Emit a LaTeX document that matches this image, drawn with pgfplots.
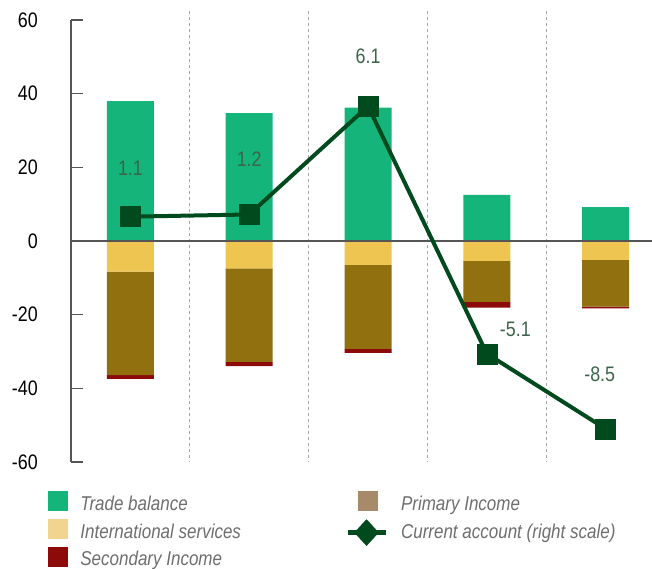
\documentclass[border=0pt]{standalone}
\usepackage{fontspec}
\setmainfont{Liberation Sans}[FakeStretch=0.85]
\usepackage{pgfplots}
\usepackage{pgfplotstable}
\pgfplotsset{compat=1.18}
\definecolor{trade}{RGB}{20,180,122}
\definecolor{intl}{RGB}{237,197,80}
\definecolor{prim}{RGB}{145,112,15}
\definecolor{sec}{RGB}{140,10,10}
\definecolor{ca}{RGB}{0,74,30}
\definecolor{intlL}{RGB}{240,212,143}
\definecolor{primL}{RGB}{166,138,106}
\definecolor{lbl}{RGB}{60,100,75}
\definecolor{axc}{RGB}{85,85,85}
\definecolor{tick}{RGB}{50,50,50}
\definecolor{legtxt}{RGB}{110,110,110}

\pgfplotstableread{
x trade intl prim sec ca
0 38.0 -8.3 -28.1 -1.0 1.1
1 34.7 -7.4 -25.4 -1.2 1.2
2 36.2 -6.5 -22.8 -1.1 6.1
3 12.5 -5.4 -11.1 -1.6 -5.1
4 9.2 -5.1 -12.7 -0.5 -8.5
}\datatable

\pgfplotsset{base/.style={width=581pt,height=442pt,scale only axis,
  xmin=-0.5,xmax=4.39,clip=false,at={(0,0)},anchor=south west}}

\begin{document}
\begin{tikzpicture}[font=\fontsize{21}{25}\selectfont]
\useasboundingbox (-71pt,-107pt) rectangle (581pt,462pt);
\begin{axis}[base, ymin=-60, ymax=60, ybar stacked, bar width=47pt,
  axis x line=none, axis y line*=left,
  axis line style={axc, line width=1.2pt},
  ytick={-60,-40,-20,0,20,40,60},
  yticklabels={-60,-40,-20,0,20,40,60},
  tick align=inside, major tick length=12pt,
  tick style={axc, line width=1.2pt},
  yticklabel style={tick, inner sep=0pt, xshift=-33pt},
  ]
\addplot[fill=intl, draw=none] table[x=x,y=intl]{\datatable};
\addplot[fill=prim, draw=none] table[x=x,y=prim]{\datatable};
\addplot[fill=sec, draw=none] table[x=x,y=sec]{\datatable};
\draw[black!35, line width=1pt, dash pattern=on 3pt off 3pt] (axis cs:0.5,62.5) -- (axis cs:0.5,-60);
\draw[black!35, line width=1pt, dash pattern=on 3pt off 3pt] (axis cs:1.5,62.5) -- (axis cs:1.5,-60);
\draw[black!35, line width=1pt, dash pattern=on 3pt off 3pt] (axis cs:2.5,62.5) -- (axis cs:2.5,-60);
\draw[black!35, line width=1pt, dash pattern=on 3pt off 3pt] (axis cs:3.5,62.5) -- (axis cs:3.5,-60);
\end{axis}
\begin{axis}[base, ymin=-60, ymax=60, axis lines=none, ybar, bar width=47pt, bar shift=0pt]
\addplot[fill=trade, draw=none] table[x=x,y=trade]{\datatable};
\draw[axc, line width=1.2pt] (axis cs:-0.5,0) -- (axis cs:4.39,0);
\end{axis}
\begin{axis}[base, ymin=-10, ymax=10, axis lines=none,
  legend columns=2,
  legend cell align=left,
  legend style={draw=none, fill=none, at={(-0.0396,-0.066)}, anchor=north west,
    inner sep=0pt, outer sep=0pt, row sep=0pt,
    nodes={inner sep=0pt, text=legtxt, font=\itshape\fontsize{20}{24}\selectfont, text height=14pt, text depth=5pt},
    /tikz/every odd column/.append style={column sep=13pt},
    /tikz/every even column/.append style={column sep=104pt}},
  ]
\addplot[ca, line width=4pt, mark=square*, mark size=10pt, mark options={line width=0.4pt}, forget plot] table[x=x,y=ca]{\datatable};
\node[lbl] at (axis cs:0,3.3) {1.1};
\node[lbl] at (axis cs:1,3.71) {1.2};
\node[lbl] at (axis cs:2,8.38) {6.1};
\node[lbl] at (axis cs:3.24,-3.99) {-5.1};
\node[lbl] at (axis cs:3.95,-6.02) {-8.5};
\addlegendimage{legend image code/.code={\path[draw=none,fill=none] (0pt,-13pt) rectangle (19pt,13pt); \fill[trade] (0pt,-4.5pt) rectangle (19pt,14.5pt);}}
\addlegendentry{Trade balance}
\addlegendimage{legend image code/.code={\path[draw=none,fill=none] (0pt,-13pt) rectangle (38pt,13pt); \fill[primL] (11pt,-4.5pt) rectangle (30pt,14.5pt);}}
\addlegendentry{Primary Income}
\addlegendimage{legend image code/.code={\path[draw=none,fill=none] (0pt,-13pt) rectangle (19pt,13pt); \fill[intlL] (0pt,-4.5pt) rectangle (19pt,14.5pt);}}
\addlegendentry{International services}
\addlegendimage{legend image code/.code={\path[draw=none,fill=none] (0pt,-13pt) rectangle (38pt,13pt); \draw[ca, line width=5pt] (0pt,1pt) -- (38pt,1pt); \fill[ca] (19pt,-12pt) -- (31pt,1pt) -- (19pt,14pt) -- (7pt,1pt) -- cycle;}}
\addlegendentry{Current account (right scale)}
\addlegendimage{legend image code/.code={\path[draw=none,fill=none] (0pt,-13pt) rectangle (19pt,13pt); \fill[sec] (0pt,-4.5pt) rectangle (19pt,14.5pt);}}
\addlegendentry{Secondary Income}
\end{axis}
\end{tikzpicture}
\end{document}
